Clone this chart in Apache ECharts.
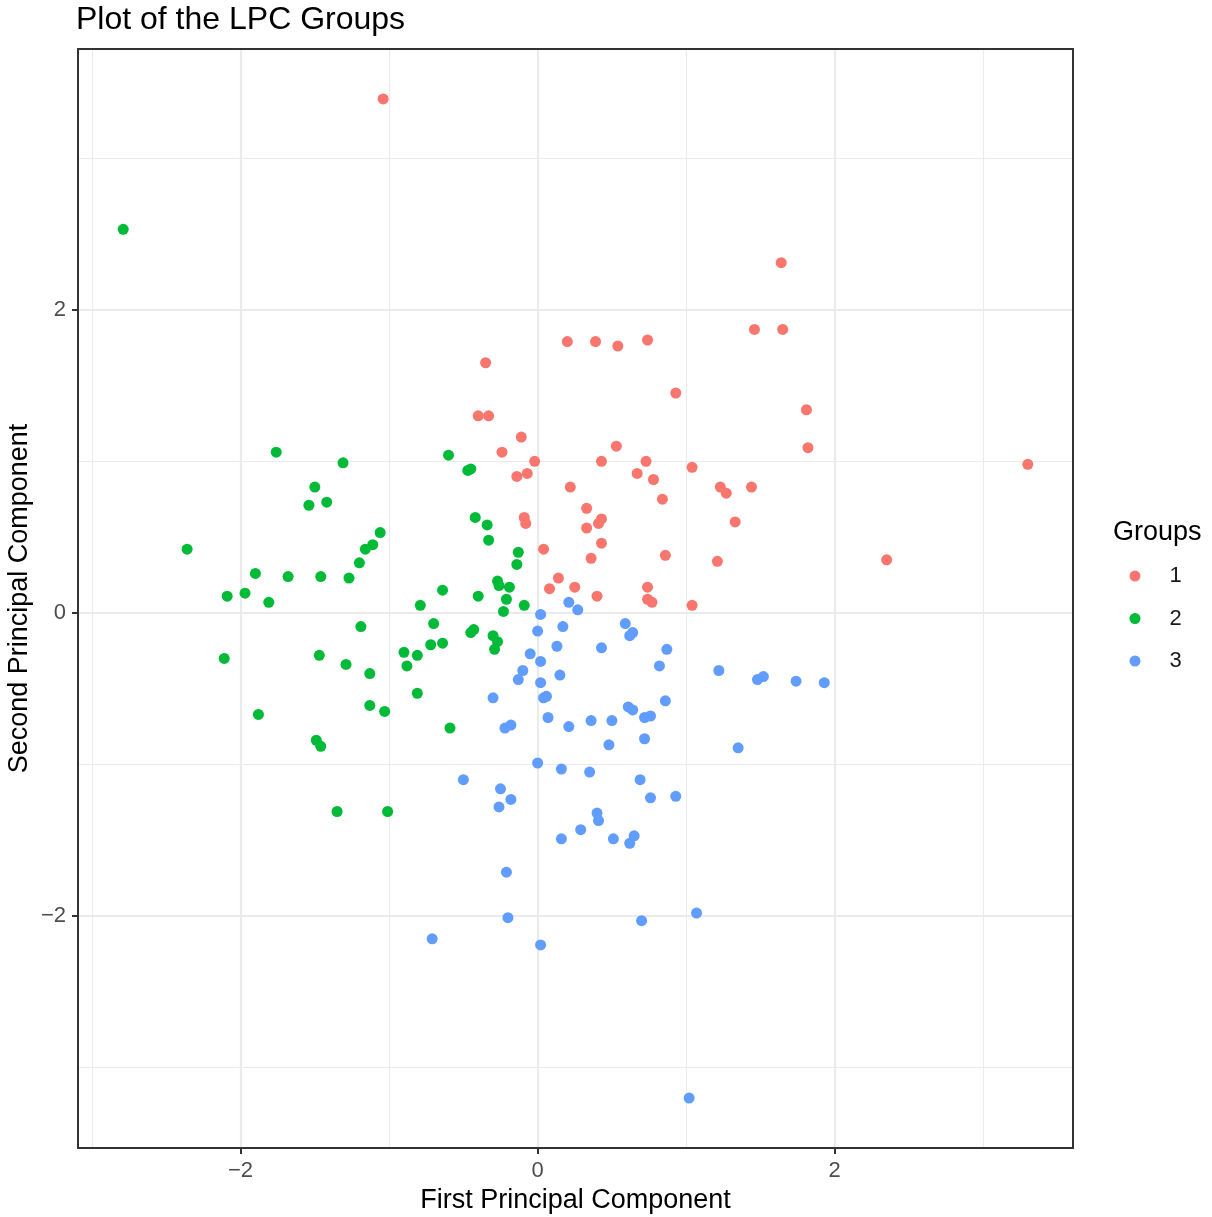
<!DOCTYPE html>
<html>
<head>
<meta charset="utf-8">
<title>Plot of the LPC Groups</title>
<script src="https://cdn.jsdelivr.net/npm/echarts@6/dist/echarts.min.js"></script>
<style>
  html, body { margin: 0; padding: 0; background: #ffffff; }
  #chart { width: 1212px; height: 1217px; }
</style>
</head>
<body>
<div id="chart"></div>
<script>
// Principal component scores of each observation, split by LPC group: [PC1, PC2]
const group1 = [
  [-1.04, 3.39], [1.64, 2.31], [1.46, 1.87], [1.65, 1.87], [0.20, 1.79], [0.39, 1.79],
  [0.54, 1.76], [0.74, 1.80], [-0.35, 1.65], [0.93, 1.45], [1.81, 1.34], [-0.40, 1.30],
  [-0.33, 1.30], [-0.11, 1.16], [1.82, 1.09], [0.53, 1.10], [-0.24, 1.06], [-0.02, 1.00],
  [0.43, 1.00], [0.73, 1.00], [1.04, 0.96], [3.30, 0.98], [-0.14, 0.90], [-0.07, 0.92],
  [0.67, 0.92], [0.78, 0.88], [0.22, 0.83], [1.23, 0.83], [1.27, 0.79], [1.44, 0.83],
  [0.84, 0.75], [0.33, 0.69], [-0.09, 0.63], [-0.08, 0.59], [0.43, 0.62], [0.41, 0.59],
  [0.33, 0.56], [1.33, 0.60], [0.04, 0.42], [0.43, 0.46], [0.86, 0.38], [0.36, 0.36],
  [1.21, 0.34], [2.35, 0.35], [0.14, 0.23], [0.08, 0.16], [0.25, 0.17], [0.74, 0.17],
  [0.40, 0.11], [0.74, 0.09], [0.77, 0.07], [1.04, 0.05]
];
const group2 = [
  [-2.79, 2.53], [-1.76, 1.06], [-1.31, 0.99], [-0.60, 1.04], [-0.47, 0.94], [-0.45, 0.95],
  [-1.50, 0.83], [-1.54, 0.71], [-1.42, 0.73], [-0.42, 0.63], [-1.06, 0.53], [-1.11, 0.45],
  [-1.16, 0.42], [-2.36, 0.42], [-1.20, 0.33], [-0.34, 0.58], [-0.33, 0.48], [-0.13, 0.40],
  [-0.14, 0.32], [-1.90, 0.26], [-1.68, 0.24], [-1.46, 0.24], [-1.27, 0.23], [-0.27, 0.21],
  [-0.26, 0.18], [-0.19, 0.17], [-0.64, 0.15], [-2.09, 0.11], [-1.97, 0.13], [-1.81, 0.07],
  [-0.40, 0.11], [-0.21, 0.09], [-0.79, 0.05], [-0.09, 0.05], [-0.23, 0.01], [-1.19, -0.09],
  [-0.70, -0.07], [-0.45, -0.13], [-0.43, -0.11], [-0.30, -0.15], [-0.27, -0.19], [-0.29, -0.24],
  [-0.90, -0.26], [-0.81, -0.28], [-0.72, -0.21], [-0.64, -0.20], [-0.88, -0.35], [-2.11, -0.30],
  [-1.47, -0.28], [-1.29, -0.34], [-1.13, -0.40], [-0.81, -0.53], [-1.88, -0.67], [-1.13, -0.61],
  [-1.03, -0.65], [-0.59, -0.76], [-1.49, -0.84], [-1.46, -0.88], [-1.35, -1.31], [-1.01, -1.31]
];
const group3 = [
  [0.21, 0.07], [0.27, 0.02], [0.02, -0.01], [0.17, -0.09], [0.00, -0.12], [0.59, -0.07],
  [0.64, -0.13], [0.62, -0.15], [-0.05, -0.27], [0.13, -0.22], [0.02, -0.32], [0.43, -0.23],
  [0.87, -0.24], [0.82, -0.35], [-0.10, -0.38], [-0.13, -0.44], [0.15, -0.41], [0.02, -0.46],
  [0.06, -0.55], [0.04, -0.56], [-0.30, -0.56], [0.86, -0.58], [0.61, -0.62], [0.64, -0.64],
  [0.72, -0.69], [0.76, -0.68], [0.07, -0.69], [0.21, -0.75], [0.36, -0.71], [0.50, -0.71],
  [-0.22, -0.76], [-0.18, -0.74], [0.48, -0.87], [0.72, -0.83], [0.00, -0.99], [0.16, -1.03],
  [0.35, -1.05], [0.69, -1.10], [-0.50, -1.10], [-0.25, -1.16], [-0.18, -1.23], [-0.26, -1.28],
  [0.76, -1.22], [0.93, -1.21], [0.40, -1.32], [0.41, -1.37], [0.29, -1.43], [0.16, -1.49],
  [0.51, -1.49], [0.65, -1.47], [0.62, -1.52], [1.22, -0.38], [1.48, -0.44], [1.52, -0.42],
  [1.74, -0.45], [1.93, -0.46], [1.35, -0.89], [-0.21, -1.71], [-0.20, -2.01], [0.02, -2.19],
  [-0.71, -2.15], [0.70, -2.03], [1.07, -1.98], [1.02, -3.20]
];

const groupNames = ['1', '2', '3'];
const groupColors = ['#F8766D', '#00BA38', '#619CFF'];
const majorBreaks = [-2, 0, 2];
const minorBreaks = [-3, -1, 1, 3];

const FONT = '"Liberation Sans", Arial, Helvetica, sans-serif';

// Axis limits: data range widened by 5% on each side
function expandRange(values) {
  const lo = Math.min(...values), hi = Math.max(...values);
  const pad = (hi - lo) * 0.05;
  return [lo - pad, hi + pad];
}
const allPoints = group1.concat(group2, group3);
const [xMin, xMax] = expandRange(allPoints.map(p => p[0]));
const [yMin, yMax] = expandRange(allPoints.map(p => p[1]));

const minusLabel = v => String(v).replace('-', '\u2212');

// Background grid: heavier lines at the labelled breaks, lighter ones between
const gridLines = [];
majorBreaks.forEach(v => {
  gridLines.push({ xAxis: v, lineStyle: { width: 2.2 } });
  gridLines.push({ yAxis: v, lineStyle: { width: 2.2 } });
});
minorBreaks.forEach(v => {
  gridLines.push({ xAxis: v, lineStyle: { width: 1.1 } });
  gridLines.push({ yAxis: v, lineStyle: { width: 1.1 } });
});

const borderLine = { show: true, onZero: false, lineStyle: { color: '#333333', width: 2 } };

const chart = echarts.init(document.getElementById('chart'), null, { renderer: 'canvas' });

const groups = [group1, group2, group3];

chart.setOption({
  animation: false,
  backgroundColor: '#ffffff',
  textStyle: { fontFamily: FONT },
  title: [
    {
      text: 'Plot of the LPC Groups',
      left: 76, top: 4, padding: 0,
      textStyle: { fontSize: 32, fontWeight: 'normal', color: '#000000', fontFamily: FONT }
    },
    {
      text: 'Groups',
      left: 1113, top: 519, padding: 0,
      textStyle: { fontSize: 27, fontWeight: 'normal', color: '#000000', fontFamily: FONT }
    }
  ],
  legend: {
    orient: 'vertical',
    left: 1129.5, top: 565,
    padding: 0,
    itemWidth: 11, itemHeight: 11, itemGap: 20.5,
    icon: 'circle',
    selectedMode: false,
    data: groupNames,
    textStyle: { fontSize: 22, lineHeight: 22, color: '#1A1A1A', fontFamily: FONT, padding: [0, 0, 0, 24] }
  },
  grid: { left: 78, right: 139, top: 49, bottom: 69, containLabel: false, outerBoundsMode: 'none' },
  xAxis: [
    {
      type: 'value', position: 'bottom', min: xMin, max: xMax, z: 5,
      name: 'First Principal Component', nameLocation: 'middle', nameGap: 36,
      nameTextStyle: { fontSize: 27, color: '#000000', fontFamily: FONT },
      axisLine: borderLine,
      axisTick: { show: true, customValues: majorBreaks, length: 6, lineStyle: { color: '#333333', width: 2 } },
      axisLabel: { customValues: majorBreaks, formatter: minusLabel, margin: 12, fontSize: 22, color: '#4D4D4D', fontFamily: FONT },
      splitLine: { show: false }
    },
    {
      type: 'value', position: 'top', min: xMin, max: xMax, z: 5,
      axisLine: borderLine, axisTick: { show: false }, axisLabel: { show: false }, splitLine: { show: false }
    }
  ],
  yAxis: [
    {
      type: 'value', position: 'left', min: yMin, max: yMax, z: 5,
      name: 'Second Principal Component', nameLocation: 'middle', nameGap: 45,
      nameMoveOverlap: false,
      nameTextStyle: { fontSize: 27, color: '#000000', fontFamily: FONT },
      axisLine: borderLine,
      axisTick: { show: true, customValues: majorBreaks, length: 6, lineStyle: { color: '#333333', width: 2 } },
      axisLabel: { customValues: majorBreaks, formatter: minusLabel, margin: 12, fontSize: 22, color: '#4D4D4D', fontFamily: FONT },
      splitLine: { show: false }
    },
    {
      type: 'value', position: 'right', min: yMin, max: yMax, z: 5,
      axisLine: borderLine, axisTick: { show: false }, axisLabel: { show: false }, splitLine: { show: false }
    }
  ],
  series: [
    {
      type: 'scatter', data: [], z: 1, silent: true,
      markLine: {
        silent: true, z: 1, animation: false,
        symbol: ['none', 'none'],
        label: { show: false },
        emphasis: { disabled: true },
        lineStyle: { color: '#EBEBEB', type: 'solid' },
        data: gridLines
      }
    }
  ].concat(groups.map((pts, i) => ({
    name: groupNames[i],
    type: 'scatter',
    z: 3,
    data: pts,
    symbol: 'circle',
    symbolSize: 11,
    itemStyle: { color: groupColors[i], opacity: 1 },
    emphasis: { disabled: true }
  })))
});
</script>
</body>
</html>
